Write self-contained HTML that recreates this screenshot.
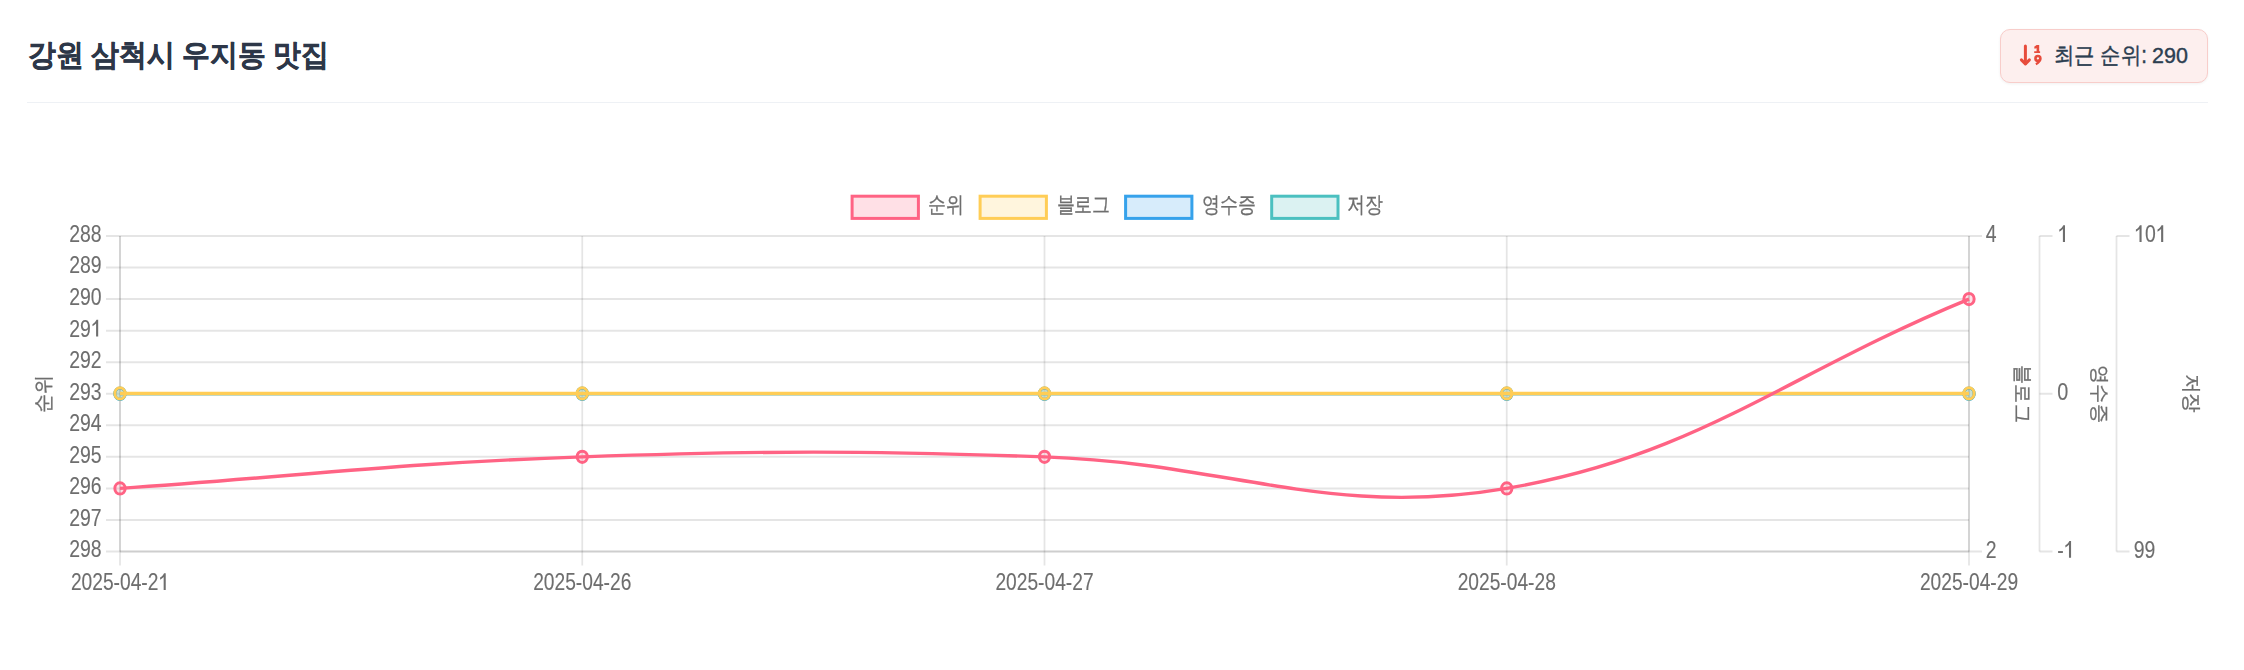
<!DOCTYPE html>
<html><head><meta charset="utf-8"><style>
html,body{margin:0;padding:0;background:#fff;width:2244px;height:670px;overflow:hidden;font-family:"Liberation Sans",sans-serif}
.title{position:absolute;left:28px;top:40px;font-size:29.5px;font-weight:bold;color:#2d3748;white-space:nowrap;line-height:1;transform:scaleX(0.927);transform-origin:0 0;-webkit-text-stroke:0.5px #2d3748}
.badge{position:absolute;left:2000px;top:29px;width:208px;height:53.5px;box-sizing:border-box;border:1.2px solid #f8cdca;background:#fdefee;border-radius:10px;box-shadow:0 1px 3px rgba(0,0,0,0.06)}
.btxt{position:absolute;left:2053.5px;top:44px;font-size:23px;color:#2c3e50;white-space:nowrap;line-height:1;transform:scaleX(0.886);transform-origin:0 0;-webkit-text-stroke:0.4px #2c3e50}
.bnum{position:absolute;left:2152px;top:45.4px;font-size:22.4px;color:#2c3e50;white-space:nowrap;line-height:1;transform:scaleX(0.96);transform-origin:0 0;-webkit-text-stroke:0.4px #2c3e50}
.divider{position:absolute;left:27px;top:101.5px;width:2181px;height:1.5px;background:#eef1f5}
svg{position:absolute;left:0;top:0;will-change:transform}
text{font-family:"Liberation Sans",sans-serif}
</style></head><body>
<div class="title">강원 삼척시 우지동 맛집</div>
<div class="badge"></div>
<div class="btxt">최근 순위:</div><div class="bnum">290</div>
<div class="divider"></div>
<svg width="2244" height="670" viewBox="0 0 2244 670">
<g stroke="#e74c3c" fill="none" stroke-linecap="round" stroke-linejoin="round">
<line x1="2025.4" y1="46" x2="2025.4" y2="63.5" stroke-width="3"/>
<polyline points="2021.4,59.9 2025.4,64 2029.4,59.9" stroke-width="3"/>
<circle cx="2037.9" cy="58.4" r="2.45" stroke-width="2.6"/>
</g>
<g fill="#e74c3c">
<path d="M2036.6,45 L2039.2,45 L2039.2,51.2 L2040.1,51.2 L2040.1,53 L2034.2,53 L2034.2,51.2 L2036.6,51.2 L2036.6,48.2 L2034.5,48.8 L2034.2,46.8 Z"/>
<path d="M2041.2,58.6 Q2041,63.2 2036.3,65.3 L2035.4,63.3 Q2037.9,62.1 2038.6,59.6 Z"/>
</g>
<line x1="106" y1="236.00" x2="1969" y2="236.00" stroke="rgba(0,0,0,0.1)" stroke-width="2"/>
<line x1="106" y1="267.55" x2="1969" y2="267.55" stroke="rgba(0,0,0,0.1)" stroke-width="2"/>
<line x1="106" y1="299.10" x2="1969" y2="299.10" stroke="rgba(0,0,0,0.1)" stroke-width="2"/>
<line x1="106" y1="330.65" x2="1969" y2="330.65" stroke="rgba(0,0,0,0.1)" stroke-width="2"/>
<line x1="106" y1="362.20" x2="1969" y2="362.20" stroke="rgba(0,0,0,0.1)" stroke-width="2"/>
<line x1="106" y1="393.75" x2="1969" y2="393.75" stroke="rgba(0,0,0,0.1)" stroke-width="2"/>
<line x1="106" y1="425.30" x2="1969" y2="425.30" stroke="rgba(0,0,0,0.1)" stroke-width="2"/>
<line x1="106" y1="456.85" x2="1969" y2="456.85" stroke="rgba(0,0,0,0.1)" stroke-width="2"/>
<line x1="106" y1="488.40" x2="1969" y2="488.40" stroke="rgba(0,0,0,0.1)" stroke-width="2"/>
<line x1="106" y1="519.95" x2="1969" y2="519.95" stroke="rgba(0,0,0,0.1)" stroke-width="2"/>
<line x1="106" y1="551.50" x2="1969" y2="551.50" stroke="rgba(0,0,0,0.1)" stroke-width="2"/>
<line x1="120.00" y1="236" x2="120.00" y2="565.5" stroke="rgba(0,0,0,0.1)" stroke-width="1.8"/>
<line x1="582.25" y1="236" x2="582.25" y2="565.5" stroke="rgba(0,0,0,0.1)" stroke-width="1.8"/>
<line x1="1044.50" y1="236" x2="1044.50" y2="565.5" stroke="rgba(0,0,0,0.1)" stroke-width="1.8"/>
<line x1="1506.75" y1="236" x2="1506.75" y2="565.5" stroke="rgba(0,0,0,0.1)" stroke-width="1.8"/>
<line x1="1969.00" y1="236" x2="1969.00" y2="565.5" stroke="rgba(0,0,0,0.1)" stroke-width="1.8"/>
<line x1="120" y1="236" x2="120" y2="551.5" stroke="rgba(0,0,0,0.1)" stroke-width="1.8"/>
<line x1="120" y1="551.5" x2="1969" y2="551.5" stroke="rgba(0,0,0,0.1)" stroke-width="2"/>
<line x1="1969" y1="236" x2="1969" y2="551.5" stroke="rgba(0,0,0,0.1)" stroke-width="1.8"/>
<line x1="1969" y1="236" x2="1982" y2="236" stroke="rgba(0,0,0,0.1)" stroke-width="2"/>
<line x1="1969" y1="551.5" x2="1982" y2="551.5" stroke="rgba(0,0,0,0.1)" stroke-width="2"/>
<line x1="2039.5" y1="236" x2="2039.5" y2="551.5" stroke="rgba(0,0,0,0.1)" stroke-width="1.8"/>
<line x1="2039.5" y1="236" x2="2052.5" y2="236" stroke="rgba(0,0,0,0.1)" stroke-width="2"/>
<line x1="2039.5" y1="393.75" x2="2052.5" y2="393.75" stroke="rgba(0,0,0,0.1)" stroke-width="2"/>
<line x1="2039.5" y1="551.5" x2="2052.5" y2="551.5" stroke="rgba(0,0,0,0.1)" stroke-width="2"/>
<line x1="2116.5" y1="236" x2="2116.5" y2="551.5" stroke="rgba(0,0,0,0.1)" stroke-width="1.8"/>
<line x1="2116.5" y1="236" x2="2129.5" y2="236" stroke="rgba(0,0,0,0.1)" stroke-width="2"/>
<line x1="2116.5" y1="551.5" x2="2129.5" y2="551.5" stroke="rgba(0,0,0,0.1)" stroke-width="2"/>
<text transform="translate(69.17,241.90) scale(0.81,1.0)" text-anchor="start" font-size="24" fill="#6e6e6e" stroke="#6e6e6e" stroke-width="0.12">288</text>
<text transform="translate(69.17,273.45) scale(0.81,1.0)" text-anchor="start" font-size="24" fill="#6e6e6e" stroke="#6e6e6e" stroke-width="0.12">289</text>
<text transform="translate(69.17,305.00) scale(0.81,1.0)" text-anchor="start" font-size="24" fill="#6e6e6e" stroke="#6e6e6e" stroke-width="0.12">290</text>
<text transform="translate(69.17,336.55) scale(0.81,1.0)" text-anchor="start" font-size="24" fill="#6e6e6e" stroke="#6e6e6e" stroke-width="0.12">29</text>
<path transform="translate(90.79,336.55) scale(1.000,1)" d="M7.4,-16.7 L7.4,0 L5.3,0 L5.3,-13.0 C4.3,-11.9 3.0,-10.9 1.7,-10.3 L1.7,-12.4 C3.5,-13.4 4.9,-14.8 5.7,-16.7 Z" fill="#6e6e6e"/>
<text transform="translate(69.17,368.10) scale(0.81,1.0)" text-anchor="start" font-size="24" fill="#6e6e6e" stroke="#6e6e6e" stroke-width="0.12">292</text>
<text transform="translate(69.17,399.65) scale(0.81,1.0)" text-anchor="start" font-size="24" fill="#6e6e6e" stroke="#6e6e6e" stroke-width="0.12">293</text>
<text transform="translate(69.17,431.20) scale(0.81,1.0)" text-anchor="start" font-size="24" fill="#6e6e6e" stroke="#6e6e6e" stroke-width="0.12">294</text>
<text transform="translate(69.17,462.75) scale(0.81,1.0)" text-anchor="start" font-size="24" fill="#6e6e6e" stroke="#6e6e6e" stroke-width="0.12">295</text>
<text transform="translate(69.17,494.30) scale(0.81,1.0)" text-anchor="start" font-size="24" fill="#6e6e6e" stroke="#6e6e6e" stroke-width="0.12">296</text>
<text transform="translate(69.17,525.85) scale(0.81,1.0)" text-anchor="start" font-size="24" fill="#6e6e6e" stroke="#6e6e6e" stroke-width="0.12">297</text>
<text transform="translate(69.17,557.40) scale(0.81,1.0)" text-anchor="start" font-size="24" fill="#6e6e6e" stroke="#6e6e6e" stroke-width="0.12">298</text>
<text transform="translate(70.91,590.00) scale(0.8,1.0)" text-anchor="start" font-size="24" fill="#6e6e6e" stroke="#6e6e6e" stroke-width="0.12">2025-04-2</text>
<path transform="translate(158.42,590.00) scale(0.988,1)" d="M7.4,-16.7 L7.4,0 L5.3,0 L5.3,-13.0 C4.3,-11.9 3.0,-10.9 1.7,-10.3 L1.7,-12.4 C3.5,-13.4 4.9,-14.8 5.7,-16.7 Z" fill="#6e6e6e"/>
<text transform="translate(533.16,590.00) scale(0.8,1.0)" text-anchor="start" font-size="24" fill="#6e6e6e" stroke="#6e6e6e" stroke-width="0.12">2025-04-26</text>
<text transform="translate(995.41,590.00) scale(0.8,1.0)" text-anchor="start" font-size="24" fill="#6e6e6e" stroke="#6e6e6e" stroke-width="0.12">2025-04-27</text>
<text transform="translate(1457.66,590.00) scale(0.8,1.0)" text-anchor="start" font-size="24" fill="#6e6e6e" stroke="#6e6e6e" stroke-width="0.12">2025-04-28</text>
<text transform="translate(1919.91,590.00) scale(0.8,1.0)" text-anchor="start" font-size="24" fill="#6e6e6e" stroke="#6e6e6e" stroke-width="0.12">2025-04-29</text>
<text transform="translate(1985.80,242.00) scale(0.81,1.0)" text-anchor="start" font-size="24" fill="#6e6e6e" stroke="#6e6e6e" stroke-width="0.12">4</text>
<text transform="translate(1985.80,557.70) scale(0.81,1.0)" text-anchor="start" font-size="24" fill="#6e6e6e" stroke="#6e6e6e" stroke-width="0.12">2</text>
<path transform="translate(2057.60,242.00) scale(1.000,1)" d="M7.4,-16.7 L7.4,0 L5.3,0 L5.3,-13.0 C4.3,-11.9 3.0,-10.9 1.7,-10.3 L1.7,-12.4 C3.5,-13.4 4.9,-14.8 5.7,-16.7 Z" fill="#6e6e6e"/>
<text transform="translate(2057.20,399.70) scale(0.825,1.0)" text-anchor="start" font-size="24" fill="#6e6e6e" stroke="#6e6e6e" stroke-width="0.12">0</text>
<text transform="translate(2057.20,557.70) scale(0.81,1.0)" text-anchor="start" font-size="24" fill="#6e6e6e" stroke="#6e6e6e" stroke-width="0.12">-</text>
<path transform="translate(2063.67,557.70) scale(1.000,1)" d="M7.4,-16.7 L7.4,0 L5.3,0 L5.3,-13.0 C4.3,-11.9 3.0,-10.9 1.7,-10.3 L1.7,-12.4 C3.5,-13.4 4.9,-14.8 5.7,-16.7 Z" fill="#6e6e6e"/>
<path transform="translate(2134.20,242.00) scale(1.000,1)" d="M7.4,-16.7 L7.4,0 L5.3,0 L5.3,-13.0 C4.3,-11.9 3.0,-10.9 1.7,-10.3 L1.7,-12.4 C3.5,-13.4 4.9,-14.8 5.7,-16.7 Z" fill="#6e6e6e"/>
<text transform="translate(2145.01,242.00) scale(0.81,1.0)" text-anchor="start" font-size="24" fill="#6e6e6e" stroke="#6e6e6e" stroke-width="0.12">0</text>
<path transform="translate(2155.82,242.00) scale(1.000,1)" d="M7.4,-16.7 L7.4,0 L5.3,0 L5.3,-13.0 C4.3,-11.9 3.0,-10.9 1.7,-10.3 L1.7,-12.4 C3.5,-13.4 4.9,-14.8 5.7,-16.7 Z" fill="#6e6e6e"/>
<text transform="translate(2133.80,557.70) scale(0.81,1.0)" text-anchor="start" font-size="24" fill="#6e6e6e" stroke="#6e6e6e" stroke-width="0.12">99</text>
<text transform="translate(50.40,393.60) rotate(-90) scale(0.89,0.93)" text-anchor="middle" font-size="22" fill="#6e6e6e" stroke="#6e6e6e" stroke-width="0.3">순위</text>
<text transform="translate(2016.20,393.90) rotate(90) scale(0.88,0.93)" text-anchor="middle" font-size="22" fill="#6e6e6e" stroke="#6e6e6e" stroke-width="0.3">블로그</text>
<text transform="translate(2093.00,394.10) rotate(90) scale(0.895,0.93)" text-anchor="middle" font-size="22" fill="#6e6e6e" stroke="#6e6e6e" stroke-width="0.3">영수증</text>
<text transform="translate(2184.90,393.30) rotate(90) scale(0.91,0.93)" text-anchor="middle" font-size="22" fill="#6e6e6e" stroke="#6e6e6e" stroke-width="0.3">저장</text>
<rect x="852.10" y="196.2" width="66.3" height="22.2" fill="rgba(255,99,132,0.2)" stroke="#ff6384" stroke-width="3"/>
<text transform="translate(928.20,211.50) scale(0.815,1.0)" text-anchor="start" font-size="22" fill="#6e6e6e" stroke="#6e6e6e" stroke-width="0.3">순위</text>
<rect x="980.10" y="196.2" width="66.3" height="22.2" fill="rgba(255,205,86,0.2)" stroke="#ffcd56" stroke-width="3"/>
<text transform="translate(1056.50,211.50) scale(0.815,1.0)" text-anchor="start" font-size="22" fill="#6e6e6e" stroke="#6e6e6e" stroke-width="0.3">블로그</text>
<rect x="1125.60" y="196.2" width="66.3" height="22.2" fill="rgba(54,162,235,0.2)" stroke="#36a2eb" stroke-width="3"/>
<text transform="translate(1202.10,211.50) scale(0.815,1.0)" text-anchor="start" font-size="22" fill="#6e6e6e" stroke="#6e6e6e" stroke-width="0.3">영수증</text>
<rect x="1271.70" y="196.2" width="66.3" height="22.2" fill="rgba(75,192,192,0.2)" stroke="#4bc0c0" stroke-width="3"/>
<text transform="translate(1347.40,211.50) scale(0.815,1.0)" text-anchor="start" font-size="22" fill="#6e6e6e" stroke="#6e6e6e" stroke-width="0.3">저장</text>
<line x1="120" y1="393.85" x2="1969" y2="393.85" stroke="#4bc0c0" stroke-width="3"/>
<ellipse cx="120.00" cy="393.85" rx="5.15" ry="5.65" fill="rgba(75,192,192,0.2)" stroke="#4bc0c0" stroke-width="3"/>
<ellipse cx="582.25" cy="393.85" rx="5.15" ry="5.65" fill="rgba(75,192,192,0.2)" stroke="#4bc0c0" stroke-width="3"/>
<ellipse cx="1044.50" cy="393.85" rx="5.15" ry="5.65" fill="rgba(75,192,192,0.2)" stroke="#4bc0c0" stroke-width="3"/>
<ellipse cx="1506.75" cy="393.85" rx="5.15" ry="5.65" fill="rgba(75,192,192,0.2)" stroke="#4bc0c0" stroke-width="3"/>
<ellipse cx="1969.00" cy="393.85" rx="5.15" ry="5.65" fill="rgba(75,192,192,0.2)" stroke="#4bc0c0" stroke-width="3"/>
<line x1="120" y1="393.7" x2="1969" y2="393.7" stroke="#36a2eb" stroke-width="3"/>
<ellipse cx="120.00" cy="393.70" rx="5.15" ry="5.65" fill="rgba(54,162,235,0.2)" stroke="#36a2eb" stroke-width="3"/>
<ellipse cx="582.25" cy="393.70" rx="5.15" ry="5.65" fill="rgba(54,162,235,0.2)" stroke="#36a2eb" stroke-width="3"/>
<ellipse cx="1044.50" cy="393.70" rx="5.15" ry="5.65" fill="rgba(54,162,235,0.2)" stroke="#36a2eb" stroke-width="3"/>
<ellipse cx="1506.75" cy="393.70" rx="5.15" ry="5.65" fill="rgba(54,162,235,0.2)" stroke="#36a2eb" stroke-width="3"/>
<ellipse cx="1969.00" cy="393.70" rx="5.15" ry="5.65" fill="rgba(54,162,235,0.2)" stroke="#36a2eb" stroke-width="3"/>
<line x1="120" y1="393.45" x2="1969" y2="393.45" stroke="#ffcd56" stroke-width="3.4"/>
<ellipse cx="120.00" cy="393.45" rx="5.15" ry="5.65" fill="rgba(255,205,86,0.2)" stroke="#ffcd56" stroke-width="3"/>
<ellipse cx="582.25" cy="393.45" rx="5.15" ry="5.65" fill="rgba(255,205,86,0.2)" stroke="#ffcd56" stroke-width="3"/>
<ellipse cx="1044.50" cy="393.45" rx="5.15" ry="5.65" fill="rgba(255,205,86,0.2)" stroke="#ffcd56" stroke-width="3"/>
<ellipse cx="1506.75" cy="393.45" rx="5.15" ry="5.65" fill="rgba(255,205,86,0.2)" stroke="#ffcd56" stroke-width="3"/>
<ellipse cx="1969.00" cy="393.45" rx="5.15" ry="5.65" fill="rgba(255,205,86,0.2)" stroke="#ffcd56" stroke-width="3"/>
<path d="M120.00,488.40 C304.90,475.78 397.14,463.17 582.25,456.85 C766.94,450.55 859.81,450.55 1044.50,456.85 C1229.61,463.17 1328.80,518.76 1506.75,488.40 C1698.60,455.66 1784.10,374.82 1969.00,299.10" fill="none" stroke="#ff6384" stroke-width="3.4"/>
<ellipse cx="120.00" cy="488.40" rx="5.15" ry="5.65" fill="rgba(255,99,132,0.2)" stroke="#ff6384" stroke-width="3"/>
<ellipse cx="582.25" cy="456.85" rx="5.15" ry="5.65" fill="rgba(255,99,132,0.2)" stroke="#ff6384" stroke-width="3"/>
<ellipse cx="1044.50" cy="456.85" rx="5.15" ry="5.65" fill="rgba(255,99,132,0.2)" stroke="#ff6384" stroke-width="3"/>
<ellipse cx="1506.75" cy="488.40" rx="5.15" ry="5.65" fill="rgba(255,99,132,0.2)" stroke="#ff6384" stroke-width="3"/>
<ellipse cx="1969.00" cy="299.10" rx="5.15" ry="5.65" fill="rgba(255,99,132,0.2)" stroke="#ff6384" stroke-width="3"/>
</svg>
</body></html>
